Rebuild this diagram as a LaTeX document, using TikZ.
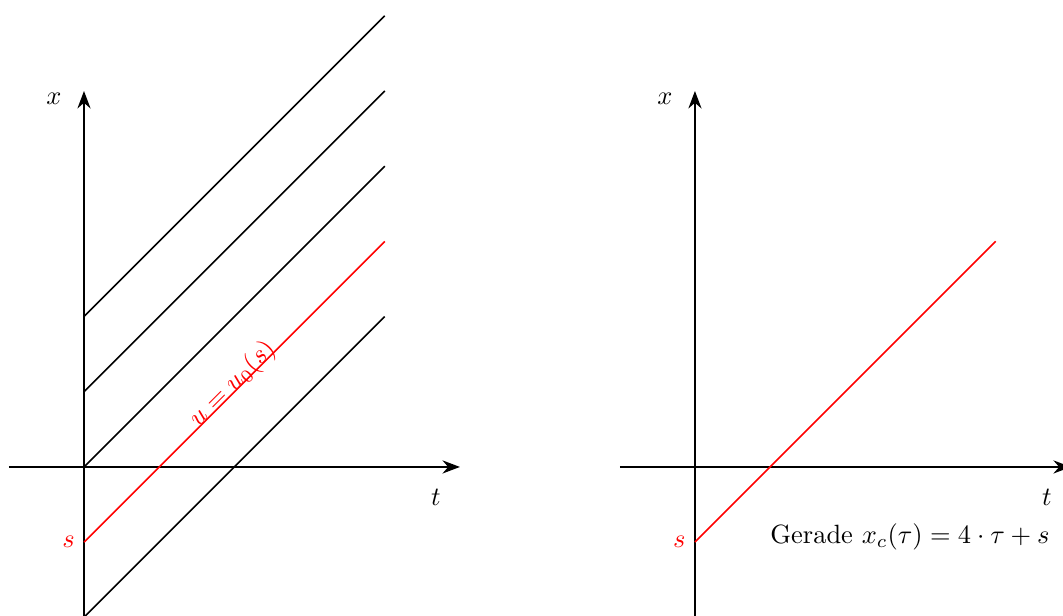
\documentclass[tikz,border=0pt]{standalone}
\usepackage{amsmath, amssymb}
\usepackage{tikz}
\usetikzlibrary{arrows.meta, positioning, calc}

\begin{document}
\begin{tikzpicture}[
    axis/.style={thick, -{Stealth}},
    charline/.style={semithick},
    redline/.style={charline, red}
]
    \useasboundingbox (-1.117,-1.98) rectangle (13.02,6.21);

    % Charakteristiken
    \coordinate (O) at (0,0);
    \coordinate (tend) at (5,0);
    \coordinate (xend) at (0,5);
    \draw[axis] (-1,0) -- (tend);
    \draw[axis] (0,-2) -- (xend);
    \node (xl) at (-0.4,4.9) {$x$};
    \node (tl) at (4.68,-0.4) {$t$};

    \foreach \s in {-2,0,1,2}
        \draw[charline] (0,\s) -- (4,\s+4);
    \coordinate (s) at (0,-1);
    \draw[redline] (s) -- (4,3)
        node[pos=0.51, sloped, anchor=base] (ul) {$u=u_0(s)$};
    \node[left, red] (sl) at (s) {$s$};

    % Gerade
    \begin{scope}[xshift=8.125cm]
        \coordinate (rO) at (0,0);
        \coordinate (rtend) at (5,0);
        \coordinate (rxend) at (0,5);
        \draw[axis] (-1,0) -- (rtend);
        \draw[axis] (0,-2) -- (rxend);
        \node (rxl) at (-0.4,4.9) {$x$};
        \node (rtl) at (4.68,-0.4) {$t$};

        \coordinate (rs) at (0,-1);
        \draw[redline] (rs) -- (4,3);
        \node[left, red] (rsl) at (rs) {$s$};
        \node (gerade) at (2.86,-0.93) {Gerade $x_c(\tau)=4\cdot\tau+s$};
    \end{scope}
\end{tikzpicture}
\end{document}
